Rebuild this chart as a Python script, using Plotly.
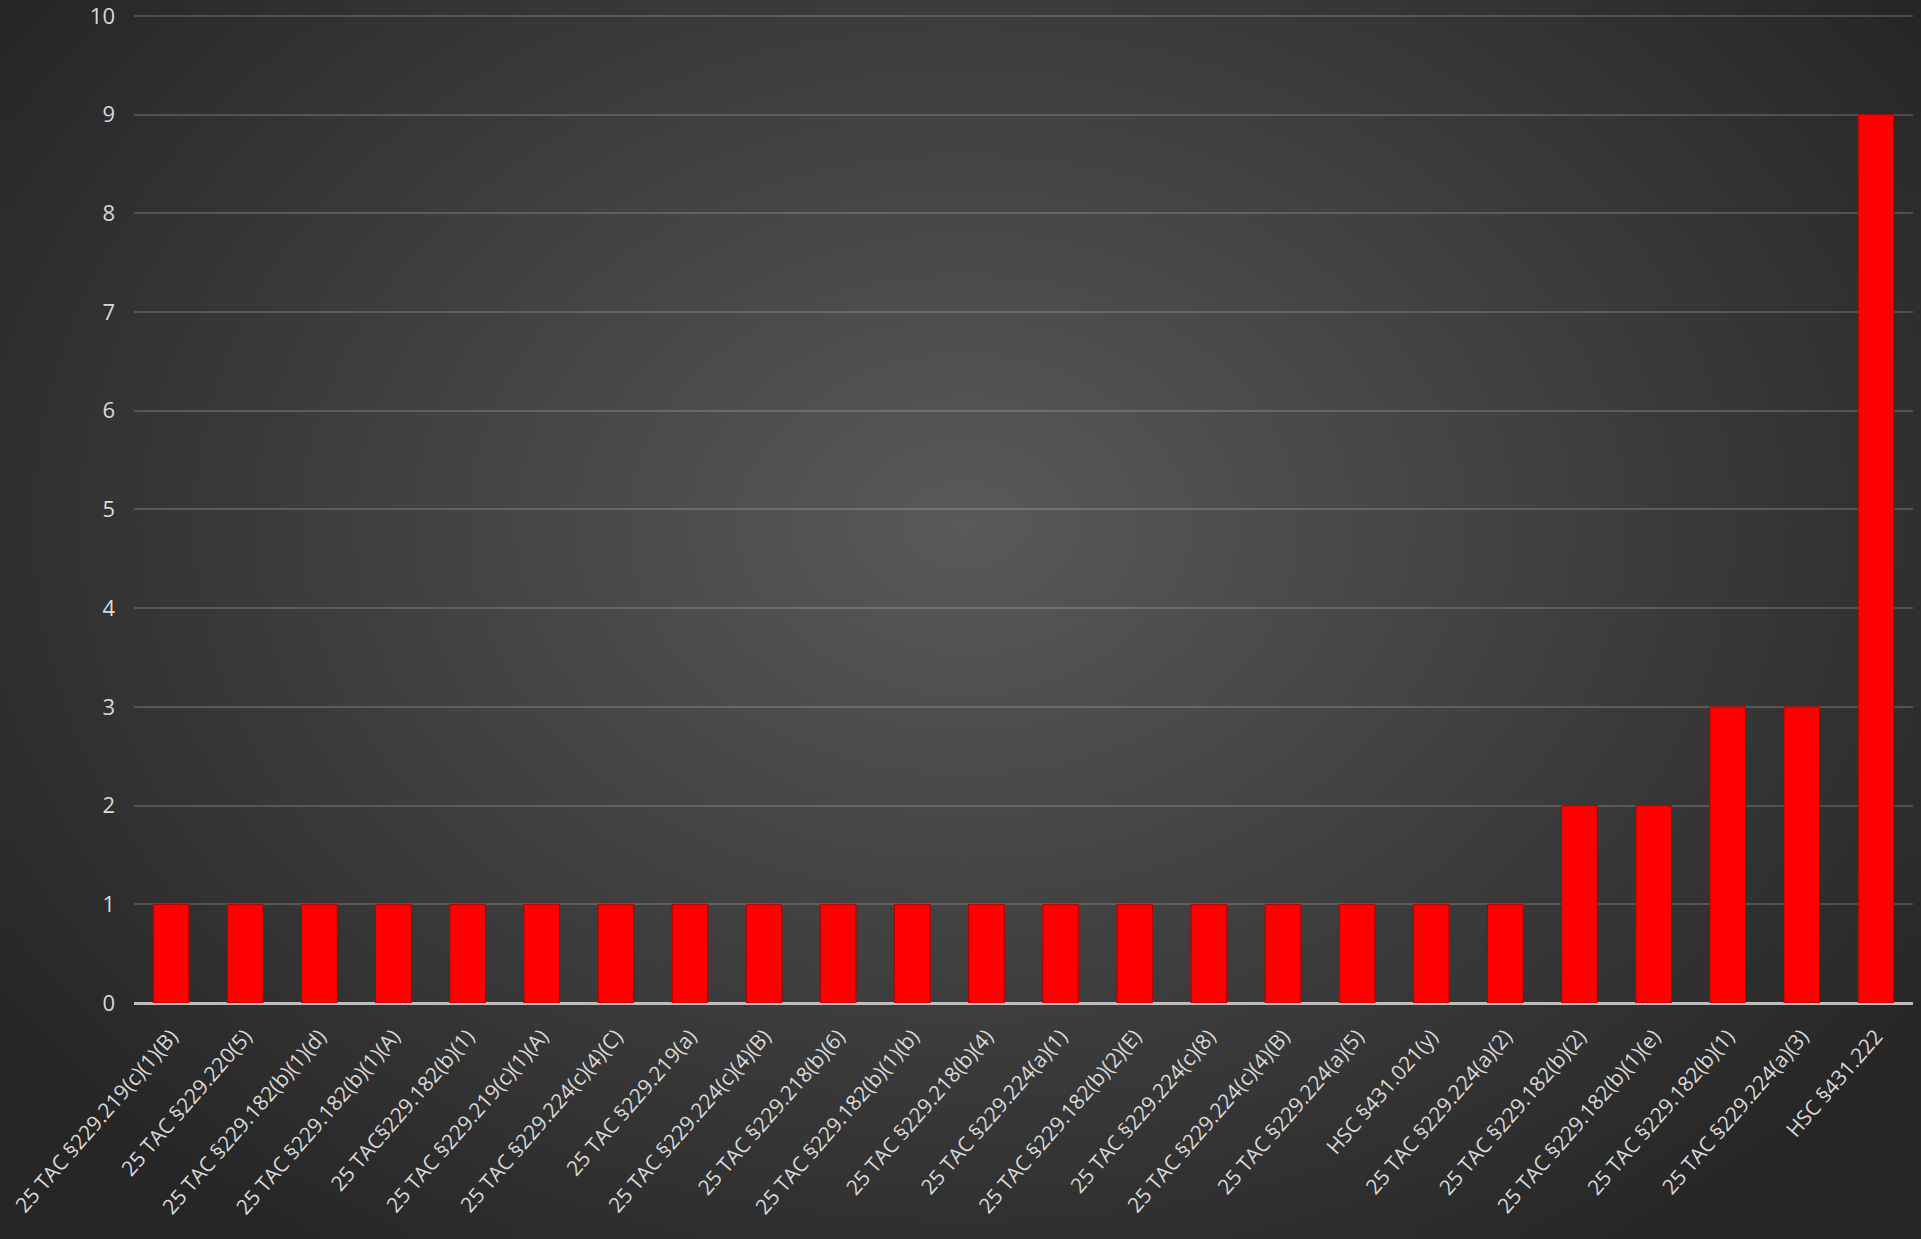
import base64, struct, zlib
import numpy as np
import plotly.graph_objects as go

# ---------------- data ----------------
categories = [
    "25 TAC §229.219(c)(1)(B)",
    "25 TAC §229.220(5)",
    "25 TAC §229.182(b)(1)(d)",
    "25 TAC §229.182(b)(1)(A)",
    "25 TAC§229.182(b)(1)",
    "25 TAC §229.219(c)(1)(A)",
    "25 TAC §229.224(c)(4)(C)",
    "25 TAC §229.219(a)",
    "25 TAC §229.224(c)(4)(B)",
    "25 TAC §229.218(b)(6)",
    "25 TAC §229.182(b)(1)(b)",
    "25 TAC §229.218(b)(4)",
    "25 TAC §229.224(a)(1)",
    "25 TAC §229.182(b)(2)(E)",
    "25 TAC §229.224(c)(8)",
    "25 TAC §229.224(c)(4)(B)",
    "25 TAC §229.224(a)(5)",
    "HSC §431.021(y)",
    "25 TAC §229.224(a)(2)",
    "25 TAC §229.182(b)(2)",
    "25 TAC §229.182(b)(1)(e)",
    "25 TAC §229.182(b)(1)",
    "25 TAC §229.224(a)(3)",
    "HSC §431.222",
]
values = [1, 1, 1, 1, 1, 1, 1, 1, 1, 1, 1, 1, 1, 1, 1, 1, 1, 1, 1, 2, 2, 3, 3, 9]
y_ticks = [0, 1, 2, 3, 4, 5, 6, 7, 8, 9, 10]

# ---------------- background gradient (styling only) ----------------
W, H = 1921, 1239
gw, gh = 240, 155
yy, xx = np.mgrid[0:gh, 0:gw]
cx, cy = gw * 0.5, gh * 0.42
t = np.sqrt(((xx - cx) / (gw * 0.62)) ** 2 + ((yy - cy) / (gh * 0.72)) ** 2)
t = np.clip(t, 0, 1)
c_center, c_edge = 90.0, 38.0
v = (c_center + (c_edge - c_center) * t).astype(np.uint8)
rgb = np.stack([v, v, v], axis=-1)


def make_png(arr):
    h, w, _ = arr.shape
    raw = b"".join(b"\x00" + arr[i].tobytes() for i in range(h))

    def chunk(tag, data):
        c = tag + data
        return struct.pack(">I", len(data)) + c + struct.pack(">I", zlib.crc32(c) & 0xFFFFFFFF)

    return (b"\x89PNG\r\n\x1a\n" + chunk(b"IHDR", struct.pack(">IIBBBBB", w, h, 8, 2, 0, 0, 0))
            + chunk(b"IDAT", zlib.compress(raw, 9)) + chunk(b"IEND", b""))


bg_uri = "data:image/png;base64," + base64.b64encode(make_png(rgb)).decode()

# ---------------- figure ----------------
ml, mr, mt, mb = 134, 8, 14, 236
pw, ph = W - ml - mr, H - mt - mb

x_idx = list(range(len(categories)))

fig = go.Figure(
    go.Bar(
        x=x_idx,
        y=values,
        marker=dict(color="#ff0000", line=dict(color="#b00000", width=1)),
        hoverinfo="x+y",
    )
)

fig.add_layout_image(
    dict(
        source=bg_uri,
        xref="paper", yref="paper",
        x=-ml / pw, y=1 + mt / ph,
        sizex=W / pw, sizey=H / ph,
        xanchor="left", yanchor="top",
        sizing="stretch", layer="below", opacity=1,
    )
)

fig.update_layout(
    width=W, height=H,
    margin=dict(l=ml, r=mr, t=mt, b=mb, autoexpand=False),
    paper_bgcolor="#2a2a2a",
    plot_bgcolor="rgba(0,0,0,0)",
    bargap=0.52,
    showlegend=False,
    font=dict(family="Open Sans, Noto Sans, sans-serif", color="#d9d9d9"),
)

fig.update_xaxes(
    automargin=False,
    tickmode="array",
    tickvals=x_idx,
    ticktext=categories,
    tickangle=-49,
    tickfont=dict(size=21, color="#d9d9d9"),
    range=[-0.5, len(categories) - 0.5],
    showgrid=False,
    showline=False,
    zeroline=False,
    ticks="",
    ticklabelstandoff=16,
    ticklabeloverflow="allow",
)

fig.update_yaxes(
    automargin=False,
    range=[0, 10.02],
    tickmode="array",
    tickvals=y_ticks,
    tickfont=dict(size=22, color="#d9d9d9"),
    showgrid=True,
    gridcolor="rgba(255,255,255,0.17)",
    gridwidth=1.8,
    zeroline=True,
    zerolinecolor="#bdbdbd",
    zerolinewidth=2.5,
    showline=False,
    ticks="",
    ticklabelstandoff=18,
    ticklabeloverflow="allow",
)

fig.write_html(
    "out.html",
    config={"displayModeBar": False},
    post_script="document.body.style.margin='0';document.body.style.overflow='hidden';",
)
